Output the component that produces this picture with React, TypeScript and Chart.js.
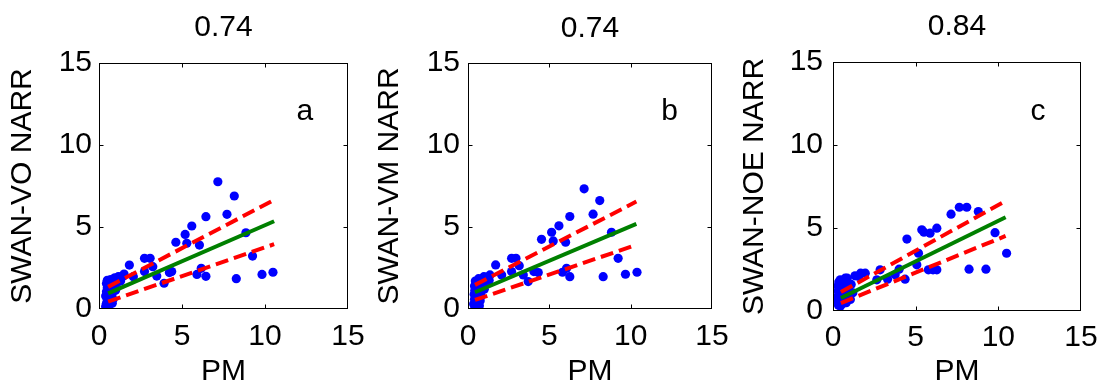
import React, { useEffect, useRef } from "react";
import { Chart, registerables } from "chart.js";

Chart.register(...registerables);

// ---------------- data ----------------
const PANEL_TITLES = ["0.74", "0.74", "0.84"];
const PANEL_LETTERS = ["a", "b", "c"];
const Y_LABELS = ["SWAN-VO NARR", "SWAN-VM NARR", "SWAN-NOE NARR"];
const X_LABEL = "PM";
const AXIS_MIN = 0;
const AXIS_MAX = 15;
const AXIS_STEP = 5;
const LETTER_POS = [12.4, 12];

// panel a : PM vs SWAN-VO NARR
const pmA = [
  7.16, 8.15, 7.71, 6.44, 5.59, 5.19, 4.63, 5.29, 6.05, 8.85, 9.25, 10.48, 9.82, 8.27, 6.44, 5.9, 6.16, 4.24,
  4.38, 3.92, 3.48, 3.24, 3.08, 2.74, 2.74, 1.83, 2.07, 1.51, 1.17,
  0.4, 0.45, 0.5, 0.4, 0.45, 0.5, 0.45, 0.5, 0.6, 0.65, 0.7, 0.6, 0.7, 0.65, 0.7, 0.8, 0.85, 0.8, 0.9, 0.85,
  0.95, 1.05, 1.1, 1.2, 1.0, 1.3, 1.45,
];
const swanVO = [
  7.76, 6.89, 5.77, 5.63, 5.06, 4.55, 4.07, 4.01, 3.9, 4.65, 3.23, 2.24, 2.11, 1.85, 1.99, 2.11, 2.48, 2.22,
  2.28, 1.57, 2.01, 2.58, 3.09, 3.09, 2.28, 2.68, 1.97, 2.13, 1.97,
  0.15, 0.35, 0.55, 0.8, 1.05, 1.3, 1.55, 1.75, 0.2, 0.45, 0.75, 1.0, 1.2, 1.5, 1.8, 0.35, 0.6, 0.95, 1.3, 1.65,
  1.9, 1.55, 1.85, 1.95, 1.15, 1.7, 2.0,
];
const fitXA = [0.55, 10.55];
const fitA = [0.95, 5.35];
const upperA = [1.35, 6.65];
const lowerA = [0.45, 3.95];

// panel b : PM vs SWAN-VM NARR
const pmB = [
  7.14, 8.1, 7.69, 6.26, 5.59, 5.14, 4.52, 5.24, 6.0, 8.82, 9.23, 10.39, 9.68, 8.31, 6.26, 5.81, 6.06, 4.32,
  4.05, 3.7, 3.4, 3.15, 2.95, 2.68, 2.68, 1.7, 2.07, 1.35, 0.98,
  0.35, 0.4, 0.38, 0.42, 0.4, 0.45, 0.42, 0.5, 0.55, 0.6, 0.55, 0.62, 0.6, 0.65, 0.7, 0.75, 0.8, 0.78, 0.85, 0.9,
  0.95, 1.05, 1.1, 1.0, 1.2, 1.3,
];
const swanVM = [
  7.33, 6.61, 5.78, 5.64, 5.07, 4.68, 4.25, 4.15, 4.07, 4.68, 3.09, 2.24, 2.12, 1.97, 1.97, 2.24, 2.48, 2.22,
  2.28, 1.67, 2.08, 2.64, 3.09, 3.09, 2.28, 2.69, 2.08, 2.08, 1.97,
  0.3, 0.6, 0.9, 1.15, 1.4, 1.7, 0.1, 0.05, 0.35, 0.65, 0.95, 1.25, 1.55, 1.85, 0.2, 0.5, 0.8, 1.1, 1.45, 1.75,
  1.9, 1.55, 1.85, 1.2, 1.95, 1.75,
];
const fitXB = [0.43, 10.35];
const fitB = [1.02, 5.19];
const upperB = [1.47, 6.55];
const lowerB = [0.55, 3.91];

// panel c : PM vs SWAN-NOE NARR
const pmC = [
  7.64, 8.09, 7.14, 8.79, 9.8, 10.5, 9.25, 8.23, 6.28, 5.87, 5.37, 5.5, 4.47, 5.17, 5.07, 6.28, 5.77, 6.05,
  4.36, 4.0, 3.76, 3.3, 2.85, 2.65, 1.95, 1.67, 1.55, 1.33, 0.86, 0.74, 0.44,
  0.28, 0.3, 0.32, 0.3, 0.35, 0.33, 0.45, 0.5, 0.48, 0.55, 0.5, 0.6, 0.65, 0.7, 0.68, 0.75, 0.8, 0.9, 0.95,
  1.05, 1.1, 1.2,
];
const swanNOE = [
  6.25, 6.25, 5.83, 5.99, 4.72, 3.48, 2.52, 2.52, 4.99, 4.69, 4.89, 4.75, 4.33, 3.48, 2.78, 2.48, 2.48, 2.48,
  1.92, 2.52, 2.18, 1.92, 2.48, 1.88, 2.28, 2.28, 2.08, 2.12, 1.98, 1.98, 1.88,
  0.6, 0.9, 1.2, 1.5, 1.75, 0.35, 0.3, 0.7, 1.05, 1.35, 1.65, 0.45, 0.8, 1.1, 1.5, 1.8, 0.5, 0.9, 1.3,
  0.7, 1.6, 1.1,
];
const fitXC = [0.48, 10.44];
const fitC = [0.78, 5.65];
const upperC = [1.14, 6.63];
const lowerC = [0.48, 4.52];

const PANEL_DATA = [
  { xs: pmA, ys: swanVO, fx: fitXA, fit: fitA, up: upperA, lo: lowerA },
  { xs: pmB, ys: swanVM, fx: fitXB, fit: fitB, up: upperB, lo: lowerB },
  { xs: pmC, ys: swanNOE, fx: fitXC, fit: fitC, up: upperC, lo: lowerC },
];

// ---------------- layout / style ----------------
const FONT_FAMILY = '"Liberation Sans", Arial, Helvetica, sans-serif';
const FONT = { family: FONT_FAMILY, size: 30, weight: "normal" as const, lineHeight: 1 };

const LAYOUT = [
  { left: 0, width: 366, yW: 99, padR: 18, tTop: 13, tBot: 20, xH: 78, xTickPad: 13, yTickPad: 7, yTitlePad: 8 },
  { left: 366, width: 366, yW: 102, padR: 20, tTop: 14, tBot: 19, xH: 78, xTickPad: 13, yTickPad: 8, yTitlePad: 9 },
  { left: 732, width: 367, yW: 101, padR: 18, tTop: 12, tBot: 20, xH: 76, xTickPad: 11.5, yTickPad: 10, yTitlePad: 8 },
];
const HEIGHT = 387;

const framePlugin = {
  id: "frameTicks",
  afterDatasetsDraw(chart: any, _args: any, opts: any) {
    const { ctx, chartArea } = chart;
    const xs = chart.scales.x;
    const ys = chart.scales.y;
    const l = Math.round(chartArea.left) + 0.5;
    const r = Math.round(chartArea.right) - 0.5;
    const t = Math.round(chartArea.top) + 0.5;
    const b = Math.round(chartArea.bottom) - 0.5;
    ctx.save();
    ctx.strokeStyle = "#000";
    ctx.lineWidth = 1;
    ctx.strokeRect(l, t, r - l, b - t);
    const len = 4;
    ctx.beginPath();
    for (const v of [5, 10]) {
      const px = Math.round(xs.getPixelForValue(v)) + 0.5;
      ctx.moveTo(px, b);
      ctx.lineTo(px, b - len);
      ctx.moveTo(px, t);
      ctx.lineTo(px, t + len);
      const py = Math.round(ys.getPixelForValue(v)) + 0.5;
      ctx.moveTo(l, py);
      ctx.lineTo(l + len, py);
      ctx.moveTo(r, py);
      ctx.lineTo(r - len, py);
    }
    ctx.stroke();
    // panel letter
    ctx.fillStyle = "#000";
    ctx.font = `30px ${FONT_FAMILY}`;
    ctx.textAlign = "center";
    ctx.textBaseline = "middle";
    ctx.fillText(opts.letter, xs.getPixelForValue(LETTER_POS[0]), ys.getPixelForValue(LETTER_POS[1]));
    ctx.restore();
  },
};

function Panel({ index }: { index: number }) {
  const ref = useRef<HTMLCanvasElement>(null);
  const L = LAYOUT[index];
  useEffect(() => {
    const d = PANEL_DATA[index];
    const pts = d.xs.map((x, i) => ({ x, y: d.ys[i] }));
    const line = (arr: number[]) => d.fx.map((x, i) => ({ x, y: arr[i] }));
    const redLine = (arr: number[]) =>
      ({
        type: "line",
        data: line(arr),
        borderColor: "#ff0000",
        borderWidth: 4,
        borderDash: [13, 6],
        borderCapStyle: "butt",
        pointRadius: 0,
        fill: false,
        tension: 0,
        order: 1,
      }) as any;
    const chart = new Chart(ref.current as HTMLCanvasElement, {
      type: "scatter",
      data: {
        datasets: [
          {
            type: "line",
            data: line(d.fit),
            borderColor: "#008000",
            borderWidth: 4,
            pointRadius: 0,
            fill: false,
            tension: 0,
            order: 0,
          } as any,
          redLine(d.up),
          redLine(d.lo),
          {
            type: "scatter",
            data: pts,
            backgroundColor: "#0000ff",
            borderColor: "#0000ff",
            borderWidth: 0,
            pointRadius: 4.6,
            order: 2,
          } as any,
        ],
      },
      options: {
        animation: false,
        responsive: false,
        events: [],
        layout: { padding: { left: 0, right: L.padR, top: 0, bottom: 0 } },
        plugins: {
          legend: { display: false },
          tooltip: { enabled: false },
          title: {
            display: true,
            text: PANEL_TITLES[index],
            font: FONT,
            color: "#000",
            fullSize: false,
            padding: { top: L.tTop, bottom: L.tBot },
          },
          frameTicks: { letter: PANEL_LETTERS[index] },
        } as any,
        scales: {
          x: {
            type: "linear",
            position: "bottom",
            min: AXIS_MIN,
            max: AXIS_MAX,
            grid: { display: false, drawTicks: false },
            border: { display: false },
            ticks: {
              stepSize: AXIS_STEP,
              font: FONT,
              color: "#000",
              padding: L.xTickPad,
              maxRotation: 0,
              autoSkip: false,
            },
            title: { display: true, text: X_LABEL, font: FONT, color: "#000", padding: { top: 0, bottom: 0 } },
            afterFit: (s: any) => {
              s.height = L.xH;
              s.paddingLeft = 0;
              s.paddingRight = 0;
            },
          },
          y: {
            type: "linear",
            position: "left",
            min: AXIS_MIN,
            max: AXIS_MAX,
            grid: { display: false, drawTicks: false },
            border: { display: false },
            ticks: { stepSize: AXIS_STEP, font: FONT, color: "#000", padding: L.yTickPad },
            title: {
              display: true,
              text: Y_LABELS[index],
              font: FONT,
              color: "#000",
              padding: { top: L.yTitlePad, bottom: 0 },
            },
            afterFit: (s: any) => {
              s.width = L.yW;
              s.paddingTop = 0;
              s.paddingBottom = 0;
            },
          },
        },
      } as any,
      plugins: [framePlugin],
    });
    return () => chart.destroy();
  }, [index]);
  return (
    <div style={{ position: "absolute", left: L.left, top: 0, width: L.width, height: HEIGHT }}>
      <canvas ref={ref} width={L.width} height={HEIGHT} style={{ display: "block" }} />
    </div>
  );
}

export default function App() {
  return (
    <div style={{ position: "absolute", left: 0, top: 0, width: 1099, height: HEIGHT, background: "#fff" }}>
      {[0, 1, 2].map((i) => (
        <Panel key={i} index={i} />
      ))}
    </div>
  );
}
